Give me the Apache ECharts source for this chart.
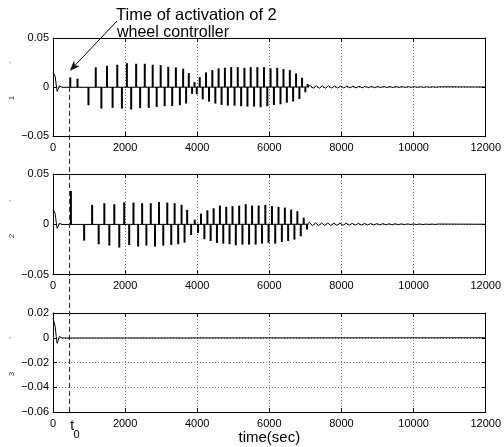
<!DOCTYPE html>
<html><head><meta charset="utf-8">
<script src="https://cdn.jsdelivr.net/npm/echarts@6/dist/echarts.min.js"></script>
<style>html,body{margin:0;padding:0;background:#fff}#c{width:504px;height:447px}</style>
</head><body><div id="c"></div>
<script>
// ---------- data ----------
const xTicks = [0, 2000, 4000, 6000, 8000, 10000, 12000];
const xTickLabels = ['0', '2000', '4000', '6000', '8000', '10000', '12000'];
const y1Ticks = [-0.05, 0, 0.05];
const y1TickLabels = ['\u22120.05', '0', '0.05'];
const y2Ticks = [-0.05, 0, 0.05];
const y2TickLabels = ['\u22120.05', '0', '0.05'];
const y3Ticks = [-0.06, -0.04, -0.02, 0, 0.02];
const y3TickLabels = ['\u22120.06', '\u22120.04', '\u22120.02', '0', '0.02'];
const xLabel = 'time(sec)';
const yNames = ['1', '2', '3'];
const annotationLines = ['Time of activation of 2', 'wheel controller'];
const t0 = 460;
const t0Label = ['t', '0'];
const arrowTip = [480, 0.017];

// initial transient (common time base)
const transT  = [0, 30, 60, 90, 115, 145, 175, 210, 250, 300];
const trans1V = [0.015, 0.0165, 0.011, 0.002, -0.0045, -0.002, 0.0012, 0.0003, -0.0003, 0];
const trans2V = [0.015, 0.016, 0.0105, 0.002, -0.004, -0.0018, 0.001, 0.0003, -0.0002, 0];
const trans3V = [0.016, 0.0155, 0.009, 0.001, -0.0045, -0.002, 0.001, 0.0002, -0.0002, 0];

// subplot 1 spikes
const p1UpT = [479, 680, 1186, 1498, 1782, 2049, 2306, 2545, 2765, 2986, 3196, 3408, 3609, 3766, 3925, 4069, 4243, 4419, 4593, 4767, 4942, 5124, 5309, 5483, 5667, 5852, 6034, 6218, 6392, 6568, 6741, 6907, 7064];
const p1UpV = [0.0098, 0.0085, 0.020, 0.0216, 0.0227, 0.0243, 0.0237, 0.0237, 0.0227, 0.0223, 0.0206, 0.020, 0.0186, 0.0142, 0.005, 0.010, 0.0149, 0.0172, 0.019, 0.0196, 0.0203, 0.0203, 0.0196, 0.0203, 0.0203, 0.0203, 0.019, 0.0196, 0.0183, 0.0172, 0.0139, 0.0095, 0.003];
const p1DnT = [984, 1342, 1653, 1911, 2168, 2416, 2655, 2876, 3097, 3306, 3518, 3692, 3857, 3987, 4152, 4326, 4502, 4675, 4849, 5034, 5218, 5392, 5576, 5758, 5943, 6127, 6309, 6485, 6659, 6833, 6998];
const p1DnV = [-0.0186, -0.022, -0.0213, -0.022, -0.023, -0.0216, -0.0213, -0.0203, -0.0196, -0.0193, -0.0186, -0.0169, -0.007, -0.0074, -0.0125, -0.0149, -0.0169, -0.0183, -0.019, -0.019, -0.0196, -0.02, -0.02, -0.0206, -0.0196, -0.0183, -0.0176, -0.016, -0.0149, -0.0122, -0.0054];
const osc1T = [7130, 7215, 7300, 7385, 7470, 7555, 7640, 7725, 7810, 7895, 7980, 8065, 8150, 8235, 8320, 8405, 8490, 8575, 8660, 8745, 8830, 8915, 9000, 9085, 9170, 9255, 9340, 9425, 9510, 9595, 9680, 9765, 9850, 9935, 10020, 10105, 10190, 10275, 10360, 10445, 10530, 10615, 10700];
const osc1V = [0.0016, -0.0012, 0.0013, -0.0013, 0.0012, -0.0012, 0.0012, -0.0011, 0.0011, -0.0011,
               0.0010, -0.0010, 0.0010, -0.0009, 0.0009, -0.0009, 0.0008, -0.0008, 0.0008, -0.0007,
               0.0007, -0.0007, 0.0006, -0.0006, 0.0006, -0.0005, 0.0005, -0.0005, 0.0005, -0.0004,
               0.0004, -0.0004, 0.0004, -0.0003, 0.0003, -0.0003, 0.0003, -0.0003, 0.0002, -0.0002,
               0.0002, -0.0002, 0.0002];

// subplot 2 spikes
const p2UpT = [497, 1085, 1424, 1700, 1975, 2232, 2472, 2711, 2940, 3169, 3373, 3565, 3720, 3930, 4105, 4281, 4455, 4629, 4805, 4978, 5163, 5345, 5521, 5703, 5888, 6072, 6254, 6430, 6604, 6777, 6953];
const p2UpV = [0.033, 0.0193, 0.0209, 0.0199, 0.0219, 0.0216, 0.0209, 0.0209, 0.0222, 0.0216, 0.0209, 0.0193, 0.0143, 0.0046, 0.0106, 0.0139, 0.0159, 0.0186, 0.0173, 0.018, 0.0186, 0.0199, 0.0186, 0.0186, 0.0193, 0.018, 0.0173, 0.0166, 0.0146, 0.013, 0.0066];
const p2DnT = [864, 1267, 1562, 1838, 2113, 2361, 2590, 2829, 3058, 3279, 3472, 3648, 3830, 4022, 4198, 4372, 4546, 4722, 4896, 5070, 5254, 5438, 5620, 5797, 5978, 6163, 6347, 6521, 6695, 6871, 7044];
const p2DnV = [-0.0163, -0.0199, -0.0212, -0.0232, -0.0206, -0.0222, -0.0212, -0.0222, -0.0212, -0.0206, -0.0199, -0.0183, -0.0106, -0.0086, -0.0149, -0.0166, -0.0186, -0.0193, -0.0199, -0.0209, -0.0202, -0.0202, -0.0202, -0.0193, -0.0186, -0.0193, -0.0176, -0.0166, -0.0153, -0.012, -0.0053];
const osc2T = [7110, 7195, 7280, 7365, 7450, 7535, 7620, 7705, 7790, 7875, 7960, 8045, 8130, 8215, 8300, 8385, 8470, 8555, 8640, 8725, 8810, 8895, 8980, 9065, 9150, 9235, 9320, 9405, 9490, 9575, 9660, 9745, 9830, 9915, 10000, 10085, 10170, 10255, 10340, 10425, 10510, 10595, 10680];
const osc2V = [0.0020, -0.0015, 0.0014, -0.0014, 0.0013, -0.0012, 0.0012, -0.0012, 0.0011, -0.0011,
               0.0010, -0.0010, 0.0010, -0.0009, 0.0009, -0.0009, 0.0008, -0.0008, 0.0008, -0.0007,
               0.0007, -0.0007, 0.0006, -0.0006, 0.0006, -0.0006, 0.0005, -0.0005, 0.0005, -0.0004,
               0.0004, -0.0004, 0.0004, -0.0003, 0.0003, -0.0003, 0.0003, -0.0003, 0.0002, -0.0002,
               0.0002, -0.0002, 0.0002];

// ---------- layout / style ----------
const FONT = "'Liberation Sans', Arial, Helvetica, sans-serif";
const X_MIN = 0, X_MAX = 12000, X_STEP = 2000;
const yRanges = [
  { min: -0.05, max: 0.05, step: 0.05, ticks: y1Ticks, labels: y1TickLabels },
  { min: -0.05, max: 0.05, step: 0.05, ticks: y2Ticks, labels: y2TickLabels },
  { min: -0.06, max: 0.02, step: 0.02, ticks: y3Ticks, labels: y3TickLabels }
];
const grids = [
  { left: 53, top: 38, width: 436, height: 98 },
  { left: 53, top: 174, width: 436, height: 100.5 },
  { left: 53, top: 313, width: 436, height: 99 }
];

function lookup(ticks, labels, v) {
  for (let i = 0; i < ticks.length; i++) if (Math.abs(ticks[i] - v) < 1e-9) return labels[i];
  return '';
}
function buildBase(tT, tV, oT, oV) {
  const pts = [];
  tT.forEach((t, i) => pts.push([t, tV[i]]));
  if (oT.length) pts.push([oT[0] - 60, 0]);
  oT.forEach((t, i) => pts.push([t, oV[i]]));
  pts.push([X_MAX, 0]);
  return pts;
}
function buildSpikes(upT, upV, dnT, dnV) {
  return upT.map((t, i) => [t, upV[i]]).concat(dnT.map((t, i) => [t, dnV[i]])).sort((a, b) => a[0] - b[0]);
}

const baseLines = [
  buildBase(transT, trans1V, osc1T, osc1V),
  buildBase(transT, trans2V, osc2T, osc2V),
  buildBase(transT, trans3V, [], [])
];
const spikes = [
  buildSpikes(p1UpT, p1UpV, p1DnT, p1DnV),
  buildSpikes(p2UpT, p2UpV, p2DnT, p2DnV),
  []
];

const black = '#000';
const dotted = { show: true, lineStyle: { color: '#777', width: 1, type: [1, 2] } };
const xAxis = [], yAxis = [], series = [];
grids.forEach((g, i) => {
  xAxis.push({
    type: 'value', gridIndex: i, min: X_MIN, max: X_MAX, interval: X_STEP, position: 'bottom',
    axisLine: { show: true, onZero: false, lineStyle: { color: black, width: 1 } },
    axisTick: { show: true, inside: true, length: 4, lineStyle: { color: black } },
    axisLabel: { show: true, margin: 6, color: black, fontSize: 11, fontFamily: FONT,
                 showMinLabel: true, showMaxLabel: true, hideOverlap: false,
                 formatter: v => lookup(xTicks, xTickLabels, v) },
    splitLine: dotted,
    name: i === 2 ? xLabel : '', nameLocation: 'middle', nameGap: 11,
    nameTextStyle: { color: black, fontSize: 15, fontFamily: FONT, verticalAlign: 'top' }
  });
  xAxis.push({
    type: 'value', gridIndex: i, min: X_MIN, max: X_MAX, interval: X_STEP, position: 'top',
    axisLine: { show: true, onZero: false, lineStyle: { color: black, width: 1 } },
    axisTick: { show: true, inside: true, length: 4, lineStyle: { color: black } },
    axisLabel: { show: false }, splitLine: { show: false }
  });
  const r = yRanges[i];
  yAxis.push({
    type: 'value', gridIndex: i, min: r.min, max: r.max, interval: r.step, position: 'left',
    axisLine: { show: true, onZero: false, lineStyle: { color: black, width: 1 } },
    axisTick: { show: true, inside: true, length: 4, lineStyle: { color: black } },
    axisLabel: { show: true, margin: 4, color: black, fontSize: 11, fontFamily: FONT,
                 showMinLabel: true, showMaxLabel: true, hideOverlap: false,
                 formatter: v => lookup(r.ticks, r.labels, v) },
    splitLine: dotted
  });
  yAxis.push({
    type: 'value', gridIndex: i, min: r.min, max: r.max, interval: r.step, position: 'right',
    axisLine: { show: true, onZero: false, lineStyle: { color: black, width: 1 } },
    axisTick: { show: true, inside: true, length: 4, lineStyle: { color: black } },
    axisLabel: { show: false }, splitLine: { show: false }
  });
  series.push({
    type: 'line', xAxisIndex: 2 * i, yAxisIndex: 2 * i, data: baseLines[i],
    showSymbol: false, symbol: 'none', clip: true, silent: true, z: 2,
    lineStyle: { color: black, width: 1 }
  });
  series.push({
    type: 'bar', xAxisIndex: 2 * i, yAxisIndex: 2 * i, data: spikes[i],
    barWidth: 2, silent: true, z: 3, clip: true,
    itemStyle: { color: black }
  });
});

const chart = echarts.init(document.getElementById('c'), null, { renderer: 'canvas' });
chart.setOption({
  animation: false,
  backgroundColor: '#fff',
  grid: grids.map(g => Object.assign({ containLabel: false }, g)),
  xAxis, yAxis, series
});

// ---------- annotations positioned through the chart's scales ----------
const pTop = chart.convertToPixel({ gridIndex: 0 }, [t0, 0]);
const pBot = chart.convertToPixel({ gridIndex: 2 }, [t0, yRanges[2].min]);
const tip = chart.convertToPixel({ gridIndex: 0 }, arrowTip);
const annX = 116, annY1 = 15.5, annY2 = 33;
const start = [117, 21];
const dx = tip[0] - start[0], dy = tip[1] - start[1];
const len = Math.hypot(dx, dy);
const ux = dx / len, uy = dy / len, px = -uy, py = ux;
const HL = 9, HW = 3.5;
const back = [tip[0] - ux * HL, tip[1] - uy * HL];
const notch = [tip[0] - ux * HL * 0.7, tip[1] - uy * HL * 0.7];

const gridBottom2 = grids[2].top + grids[2].height;
const nameEls = [
  { dot: 65, txt: 98 }, { dot: 203, txt: 236 }, { dot: 340, txt: 374 }
];
const graphic = [
  { type: 'line', silent: true, z: 50,
    shape: { x1: pTop[0], y1: pTop[1], x2: pBot[0], y2: pBot[1] },
    style: { stroke: '#222', lineWidth: 1, lineDash: [5, 3] } },
  { type: 'line', silent: true, z: 50,
    shape: { x1: start[0], y1: start[1], x2: notch[0], y2: notch[1] },
    style: { stroke: black, lineWidth: 1 } },
  { type: 'polygon', silent: true, z: 50,
    shape: { points: [tip, [back[0] + px * HW, back[1] + py * HW], notch, [back[0] - px * HW, back[1] - py * HW]] },
    style: { fill: black, stroke: black, lineWidth: 0.5 } },
  { type: 'text', silent: true, z: 50, x: annX, y: annY1,
    style: { text: annotationLines[0], fontSize: 16.5, fontFamily: FONT, fill: black, align: 'left', verticalAlign: 'middle' } },
  { type: 'text', silent: true, z: 40, x: annX + 1, y: annY2,
    style: { text: annotationLines[1], fontSize: 16, fontFamily: FONT, fill: black, align: 'left', verticalAlign: 'middle' } },
  { type: 'text', silent: true, z: 50, x: pBot[0] + 2.5, y: gridBottom2 + 14,
    style: { text: t0Label[0], fontSize: 14, fontFamily: FONT, fill: black, align: 'center', verticalAlign: 'middle' } },
  { type: 'text', silent: true, z: 50, x: pBot[0] + 7, y: gridBottom2 + 23,
    style: { text: t0Label[1], fontSize: 11, fontFamily: FONT, fill: black, align: 'center', verticalAlign: 'middle' } }
];
nameEls.forEach((e, i) => {
  graphic.push({ type: 'text', silent: true, x: 12, y: e.txt, rotation: Math.PI / 2,
    style: { text: yNames[i], fontSize: 8, fontFamily: FONT, fill: '#333', align: 'center', verticalAlign: 'middle' } });
  graphic.push({ type: 'text', silent: true, x: 10, y: e.dot,
    style: { text: "'", fontSize: 8, fontFamily: FONT, fill: '#555', align: 'center', verticalAlign: 'middle' } });
});
chart.setOption({ graphic });
</script>
</body></html>
